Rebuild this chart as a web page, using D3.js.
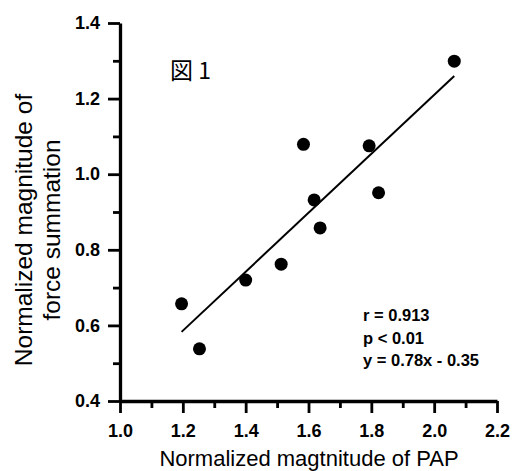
<!DOCTYPE html>
<html>
<head>
<meta charset="utf-8">
<script src="https://cdn.jsdelivr.net/npm/d3@7"></script>
<style>
 body { margin: 0; background: #fff; }
 svg { display: block; font-family: Arial, "Liberation Sans", sans-serif; }
 .axis path, .axis line { stroke: #000; }
 .axis text { font-weight: bold; font-size: 18px; fill: #000; }
</style>
</head>
<body>
<svg></svg>
<script>

// Values.

var pap = [1.196, 1.253, 1.400, 1.513, 1.584, 1.618, 1.637, 1.793, 1.823, 2.064];
var force = [0.657, 0.538, 0.720, 0.762, 1.079, 0.932, 0.858, 1.075, 0.951, 1.299];
var xTicks = [1.0, 1.2, 1.4, 1.6, 1.8, 2.0, 2.2];
var yTicks = [0.4, 0.6, 0.8, 1.0, 1.2, 1.4];
var xMinor = [1.1, 1.3, 1.5, 1.7, 1.9, 2.1];
var yMinor = [0.5, 0.7, 0.9, 1.1, 1.3];
var fit = {slope: 0.78, intercept: -0.35};
var stats = ['r = 0.913', 'p < 0.01', 'y = 0.78x - 0.35'];

// Basic svg setup.

var svg = d3.select('svg').attr('width', 515).attr('height', 471);

var x = d3.scaleLinear()
 .domain([1.0, 2.2])
 .range([120, 497]);

var y = d3.scaleLinear()
 .domain([0.4, 1.4])
 .range([401, 23]);

// Axes: major ticks with labels, then minor ticks without.

svg.append('g')
 .attr('class', 'axis')
 .attr('transform', 'translate(0,401)')
 .call(d3.axisBottom(x)
 .tickValues(xTicks)
 .tickSize(12)
 .tickSizeOuter(0)
 .tickPadding(11)
 .tickFormat(d3.format('.1f')));

svg.append('g')
 .attr('class', 'axis')
 .attr('transform', 'translate(0,401)')
 .call(d3.axisBottom(x)
 .tickValues(xMinor)
 .tickSize(7)
 .tickSizeOuter(0)
 .tickFormat(''))
 .select('.domain').remove();

svg.append('g')
 .attr('class', 'axis')
 .attr('transform', 'translate(120,0)')
 .call(d3.axisLeft(y)
 .tickValues(yTicks)
 .tickSize(12)
 .tickSizeOuter(0)
 .tickPadding(8)
 .tickFormat(d3.format('.1f')));

svg.append('g')
 .attr('class', 'axis')
 .attr('transform', 'translate(120,0)')
 .call(d3.axisLeft(y)
 .tickValues(yMinor)
 .tickSize(7)
 .tickSizeOuter(0)
 .tickFormat(''))
 .select('.domain').remove();

svg.selectAll('.axis .domain').attr('stroke-width', 3.3);
svg.selectAll('.axis .tick line').attr('stroke-width', 2.8);

// Regression line across the range of the data.

var x0 = d3.min(pap);
var x1 = d3.max(pap);
svg.append('line')
 .attr('x1', x(x0))
 .attr('y1', y(fit.slope * x0 + fit.intercept))
 .attr('x2', x(x1))
 .attr('y2', y(fit.slope * x1 + fit.intercept))
 .attr('stroke', '#000')
 .attr('stroke-width', 2);

// Points.

svg.append('g')
 .selectAll('circle')
 .data(pap)
 .enter().append('circle')
 .attr('cx', function(d) { return x(d); })
 .attr('cy', function(d, i) { return y(force[i]); })
 .attr('r', 6.5)
 .attr('fill', '#000');

// Labels.

svg.append('text')
 .attr('x', 309)
 .attr('y', 466)
 .attr('text-anchor', 'middle')
 .attr('font-size', 22)
 .text('Normalized magtnitude of PAP');

var ylab = svg.append('text')
 .attr('transform', 'translate(0,230) rotate(-90)')
 .attr('text-anchor', 'middle')
 .attr('font-size', 24.5);
ylab.append('tspan').attr('x', 0).attr('y', 32).text('Normalized magnitude of');
ylab.append('tspan').attr('x', 0).attr('y', 60).text('force summation');

svg.append('text')
 .attr('x', 170)
 .attr('y', 79)
 .attr('font-size', 23)
 .attr('font-family', '"Noto Sans CJK JP", sans-serif')
 .text('図 1');

svg.append('g')
 .selectAll('text')
 .data(stats)
 .enter().append('text')
 .attr('x', 363)
 .attr('y', function(d, i) { return 321 + i * 22.5; })
 .attr('font-size', 16.5)
 .attr('font-weight', 'bold')
 .text(function(d) { return d; });

</script>
</body>
</html>
